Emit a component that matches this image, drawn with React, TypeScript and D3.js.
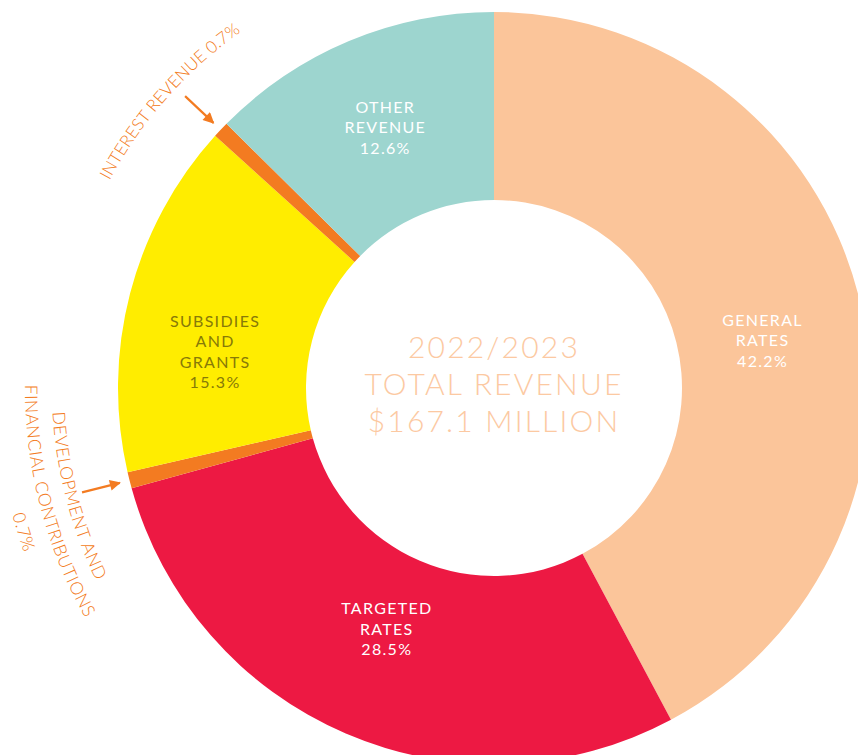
import React from "react";
import * as d3 from "d3";

const categories = [
  "General Rates",
  "Targeted Rates",
  "Development and Financial Contributions",
  "Subsidies and Grants",
  "Interest Revenue",
  "Other Revenue",
];
const values = [42.2, 28.5, 0.7, 15.3, 0.7, 12.6];
const insideLabels = [
  ["GENERAL", "RATES"],
  ["TARGETED", "RATES"],
  null,
  ["SUBSIDIES", "AND", "GRANTS"],
  null,
  ["OTHER", "REVENUE"],
];
const outsideLabels = [
  null,
  null,
  ["DEVELOPMENT AND", "FINANCIAL CONTRIBUTIONS"],
  null,
  ["INTEREST REVENUE"],
  null,
];
const centerLines = ["2022/2023", "TOTAL REVENUE", "$167.1 MILLION"];

const colors = ["#FBC59A", "#ED1943", "#F37B21", "#FFED00", "#F37B21", "#9DD5CF"];
const labelColors = ["#FFFFFF", "#FFFFFF", null, "#877A08", null, "#FFFFFF"];
// fine-tuning of label block centres relative to the arc centroid
const labelNudge = [
  [-5, 21],
  [4, -18],
  [0, 0],
  [-6, 35],
  [0, 0],
  [0, 0],
];

const W = 858;
const H = 755;
const CX = 494;
const CY = 388;
const R_OUT = 376;
const R_IN = 188;
const ORANGE = "#F37B21";
const FONT = "Lato, 'Open Sans', sans-serif";

function pt(a: number, r: number) {
  return [CX + r * Math.sin(a), CY - r * Math.cos(a)];
}

function arcPath(a0: number, a1: number, r: number) {
  const [x0, y0] = pt(a0, r);
  const [x1, y1] = pt(a1, r);
  const sweep = a1 > a0 ? 1 : 0;
  const large = Math.abs(a1 - a0) > Math.PI ? 1 : 0;
  return `M${x0},${y0} A${r},${r} 0 ${large} ${sweep} ${x1},${y1}`;
}

export default function App() {
  const pie = d3
    .pie<number>()
    .sort(null)
    .value((d) => d)(values);
  const arc = d3.arc<d3.PieArcDatum<number>>().innerRadius(R_IN).outerRadius(R_OUT);
  const labelArc = d3
    .arc<d3.PieArcDatum<number>>()
    .innerRadius(282)
    .outerRadius(282);
  const deg = Math.PI / 180;

  return (
    <svg
      width={W}
      height={H}
      style={{ position: "absolute", left: 0, top: 0, background: "#fff" }}
      fontFamily={FONT}
    >
      <defs>
        <marker
          id="ah"
          viewBox="0 0 10 10"
          refX="9"
          refY="5"
          markerWidth="5.5"
          markerHeight="5"
          orient="auto"
          markerUnits="strokeWidth"
        >
          <path d="M0,0 L10,5 L0,10 z" fill={ORANGE} />
        </marker>
      </defs>
      <g transform={`translate(${CX},${CY})`}>
        {pie.map((d, i) => (
          <path key={categories[i]} d={arc(d) || ""} fill={colors[i]} />
        ))}
      </g>
      <g>
        {pie.map((d, i) => {
          const lines = insideLabels[i];
          if (!lines) return null;
          const all = [...lines, `${values[i]}%`];
          const [x, y] = labelArc.centroid(d);
          const bx = CX + x + labelNudge[i][0];
          const by = CY + y + labelNudge[i][1];
          const L = 20.5;
          return (
            <text
              key={"l" + i}
              textAnchor="middle"
              fill={labelColors[i] || "#fff"}
              fontSize={16}
              fontWeight={400}
              letterSpacing={1.3}
            >
              {all.map((t, j) => (
                <tspan key={j} x={bx} y={by + (j - (all.length - 1) / 2) * L + 5.5}>
                  {t}
                </tspan>
              ))}
            </text>
          );
        })}
      </g>
      <g>
        {pie.map((d, i) => {
          const lines = outsideLabels[i];
          if (!lines) return null;
          const mid = (d.startAngle + d.endAngle) / 2;
          const [x0, y0] = pt(mid, 425);
          const [x1, y1] = pt(mid, 386);
          const all = [...lines, `${values[i]}%`];
          const isInterest = lines.length === 1;
          let texts;
          if (isInterest) {
            const c = mid - 1.9 * deg;
            const r = 437;
            const id = "tp" + i;
            texts = (
              <g>
                <path id={id} d={arcPath(c - 40 * deg, c + 40 * deg, r)} fill="none" />
                <text fill={ORANGE} fontSize={17} fontWeight={300} letterSpacing={0.1}>
                  <textPath href={"#" + id} startOffset="50%" textAnchor="middle">
                    {all.join(" ")}
                  </textPath>
                </text>
              </g>
            );
          } else {
            const radii = [442, 469, 498];
            const shifts = [-0.3, -0.3, -2.8];
            texts = (
              <g>
                {all.map((t, j) => {
                  const id = `tp${i}_${j}`;
                  const c = mid + shifts[j] * deg;
                  return (
                    <g key={j}>
                      <path
                        id={id}
                        d={arcPath(c + 40 * deg, c - 40 * deg, radii[j])}
                        fill="none"
                      />
                      <text fill={ORANGE} fontSize={17.5} fontWeight={300} letterSpacing={0.5}>
                        <textPath href={"#" + id} startOffset="50%" textAnchor="middle">
                          {t}
                        </textPath>
                      </text>
                    </g>
                  );
                })}
              </g>
            );
          }
          return (
            <g key={"o" + i}>
              <line
                x1={x0}
                y1={y0}
                x2={x1}
                y2={y1}
                stroke={ORANGE}
                strokeWidth={2.2}
                markerEnd="url(#ah)"
              />
              {texts}
            </g>
          );
        })}
      </g>
      <text textAnchor="middle" fill="#FCC9A2" fontSize={30} fontWeight={300} letterSpacing={2.2}>
        {centerLines.map((t, j) => (
          <tspan key={j} x={CX} y={358 + j * 37}>
            {t}
          </tspan>
        ))}
      </text>
    </svg>
  );
}
